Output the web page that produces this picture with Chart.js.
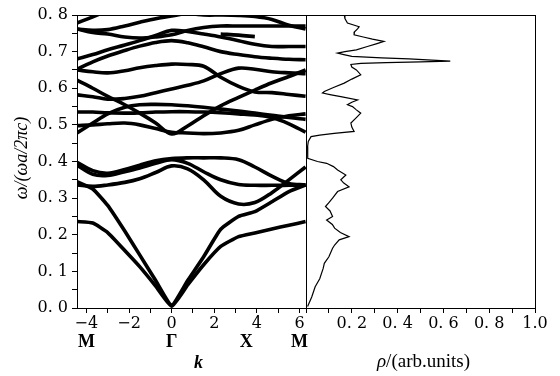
<!DOCTYPE html>
<html lang="en">
<head>
<meta charset="UTF-8">
<title>Band structure and DOS</title>
<script src="https://cdn.jsdelivr.net/npm/chart.js"></script>
<style>
    html, body { margin: 0; padding: 0; background: #fff; }
</style>
</head>
<body>
<canvas id="myChart" width="560" height="376"></canvas>
<script>
    // k values along M - Gamma - X - M, shared by every band
    var kPoints = [-4.44, -3.7, -3.0, -2.2, -1.5, -0.75, 0, 0.75, 1.5, 2.3, 3.14, 3.9, 4.7, 5.5, 6.28];

    // lower bands
    var band1 = [0.236, 0.232, 0.206, 0.157, 0.113, 0.06, 0.005, 0.063, 0.118, 0.168, 0.195, 0.205, 0.216, 0.226, 0.236];
    var band2 = [0.345, 0.325, 0.28, 0.21, 0.145, 0.075, 0.008, 0.075, 0.14, 0.215, 0.25, 0.263, 0.29, 0.318, 0.336];
    var band3 = [0.336, 0.332, 0.336, 0.343, 0.353, 0.37, 0.388, 0.38, 0.35, 0.305, 0.284, 0.288, 0.315, 0.35, 0.385];
    var band4 = [0.39, 0.365, 0.362, 0.372, 0.382, 0.395, 0.405, 0.395, 0.372, 0.35, 0.337, 0.335, 0.335, 0.335, 0.336];
    var band5 = [0.398, 0.375, 0.368, 0.378, 0.39, 0.402, 0.408, 0.41, 0.41, 0.41, 0.405, 0.385, 0.36, 0.34, 0.336];

    // upper bands
    var band6 = [0.622, 0.6, 0.578, 0.555, 0.532, 0.505, 0.475, 0.497, 0.525, 0.552, 0.575, 0.595, 0.615, 0.632, 0.65];
    var band7 = [0.478, 0.505, 0.53, 0.548, 0.555, 0.556, 0.555, 0.552, 0.548, 0.543, 0.538, 0.532, 0.526, 0.52, 0.515];
    var band8 = [0.535, 0.535, 0.533, 0.532, 0.533, 0.535, 0.536, 0.536, 0.535, 0.533, 0.53, 0.527, 0.52, 0.503, 0.48];
    var band9 = [0.498, 0.5, 0.503, 0.505, 0.5, 0.49, 0.48, 0.478, 0.476, 0.478, 0.485, 0.5, 0.515, 0.525, 0.53];
    var band10 = [0.582, 0.577, 0.57, 0.572, 0.578, 0.588, 0.598, 0.608, 0.62, 0.64, 0.655, 0.652, 0.645, 0.642, 0.64];
    var band11 = [0.65, 0.645, 0.642, 0.648, 0.656, 0.662, 0.666, 0.665, 0.66, 0.63, 0.605, 0.59, 0.588, 0.583, 0.578];
    var band12 = [0.652, 0.672, 0.688, 0.703, 0.715, 0.725, 0.73, 0.724, 0.713, 0.7, 0.692, 0.686, 0.682, 0.679, 0.678];
    var band13 = [0.68, 0.692, 0.705, 0.718, 0.73, 0.744, 0.758, 0.755, 0.748, 0.74, 0.73, 0.72, 0.714, 0.714, 0.714];
    var band14 = [0.762, 0.752, 0.748, 0.74, 0.737, 0.74, 0.746, 0.758, 0.766, 0.77, 0.77, 0.77, 0.77, 0.77, 0.77];
    var band15 = [0.778, 0.795, 0.812, null, null, null, null, null, null, null, null, null, null, null, null];
    var band16 = [0.762, 0.758, 0.76, 0.77, 0.78, 0.79, 0.797, 0.806, null, null, null, null, null, null, null];
    var band17 = [null, null, null, null, null, null, 0.812, 0.805, 0.8, 0.8, 0.799, 0.796, 0.788, 0.772, 0.762];
    // short broken piece near X
    var band18 = [null, null, null, null, null, null, null, null, null, 0.748, 0.745, 0.741, null, null, null];

    // density of states
    var dosOmega = [0.8, 0.79, 0.778, 0.768, 0.762, 0.754, 0.746, 0.74, 0.734, 0.728, 0.722, 0.714, 0.705, 0.7, 0.696,
        0.692, 0.687, 0.683, 0.68, 0.677, 0.674, 0.672, 0.67, 0.668, 0.665, 0.658, 0.65, 0.637, 0.625, 0.614,
        0.602, 0.591, 0.587, 0.582, 0.577, 0.568, 0.562, 0.555, 0.55, 0.541, 0.532, 0.52, 0.505, 0.494, 0.482,
        0.477, 0.472, 0.468, 0.455, 0.441, 0.423, 0.409, 0.4, 0.395, 0.386, 0.377, 0.363, 0.35, 0.341, 0.331,
        0.318, 0.3, 0.288, 0.277, 0.265, 0.25, 0.24, 0.228, 0.218, 0.206, 0.195, 0.186, 0.172, 0.163, 0.14,
        0.122, 0.108, 0.08, 0.058, 0.03, 0.004];
    var dosRho = [0.167, 0.17, 0.181, 0.232, 0.225, 0.212, 0.21, 0.25, 0.29, 0.34, 0.31, 0.268, 0.22, 0.17, 0.138,
        0.165, 0.2, 0.33, 0.45, 0.55, 0.63, 0.5, 0.35, 0.24, 0.196, 0.2, 0.22, 0.239, 0.2, 0.167,
        0.12, 0.08, 0.072, 0.11, 0.152, 0.225, 0.2, 0.181, 0.203, 0.22, 0.239, 0.22, 0.196, 0.2, 0.21,
        0.123, 0.06, 0.022, 0.01, 0.007, 0.007, 0.008, 0.05, 0.09, 0.12, 0.138, 0.174, 0.152, 0.165, 0.188,
        0.138, 0.116, 0.1, 0.085, 0.105, 0.116, 0.09, 0.115, 0.125, 0.15, 0.188, 0.145, 0.125, 0.116, 0.1,
        0.08, 0.075, 0.06, 0.04, 0.025, 0.007];

    // tick labels
    var kTickValues = [-4, -2, 0, 2, 4, 6];
    var kTickText = ['\u22124', '\u22122', '0', '2', '4', '6'];
    var rhoTickValues = [0.2, 0.4, 0.6, 0.8, 1.0];
    var rhoTickText = ['0. 2', '0. 4', '0. 6', '0. 8', '1.0'];
    var omegaTickValues = [0, 0.1, 0.2, 0.3, 0.4, 0.5, 0.6, 0.7, 0.8];
    var omegaTickText = ['0. 0', '0. 1', '0. 2', '0. 3', '0. 4', '0. 5', '0. 6', '0. 7', '0. 8'];
    var symLabels = ['M', '\u0393', 'X', 'M'];
    var symPos = [-4, 0, 3.5, 6];

    var bands = [band1, band2, band3, band4, band5, band6, band7, band8, band9,
        band10, band11, band12, band13, band14, band15, band16, band17, band18];

    function findLabel(values, texts, v) {
        for (var i = 0; i < values.length; i++) {
            if (Math.abs(values[i] - v) < 1e-6) return texts[i];
        }
        return '';
    }
    function stepTicks(scale, from, to, step) {
        var t = [];
        var n = Math.round((to - from) / step);
        for (var i = 0; i <= n; i++) t.push({ value: +(from + i * step).toFixed(4) });
        scale.ticks = t;
    }

    var datasets = bands.map(function (b) {
        return {
            data: kPoints.map(function (k, i) { return { x: k, y: b[i] }; }),
            xAxisID: 'x',
            yAxisID: 'y',
            borderColor: '#000',
            borderWidth: 3.6,
            pointRadius: 0,
            tension: (b === band1 || b === band2) ? 0.15 : 0.35,
            clip: 0,
            fill: false
        };
    });
    datasets.push({
        data: dosRho.map(function (r, i) { return { x: r, y: dosOmega[i] }; }),
        xAxisID: 'x2',
        yAxisID: 'y',
        borderColor: '#000',
        borderWidth: 1.2,
        pointRadius: 0,
        tension: 0,
        clip: 0,
        fill: false
    });

    var tickFont = { family: 'DejaVu Serif', size: 16 };
    var gridOpts = { display: true, drawOnChartArea: false, drawTicks: true, tickLength: 5, color: '#000' };

    var extras = {
        id: 'extras',
        afterDraw: function (chart) {
            var ctx = chart.ctx, a = chart.chartArea;
            var xs = chart.scales.x, x2 = chart.scales.x2;
            ctx.save();
            ctx.strokeStyle = '#000';
            ctx.lineWidth = 1;
            ctx.strokeRect(a.left + 0.5, a.top + 0.5, a.right - a.left, a.bottom - a.top);
            ctx.beginPath();
            ctx.moveTo(Math.round(xs.right) + 0.5, a.top);
            ctx.lineTo(Math.round(xs.right) + 0.5, a.bottom);
            ctx.stroke();

            ctx.fillStyle = '#000';
            ctx.textAlign = 'center';
            ctx.textBaseline = 'middle';
            ctx.font = 'bold 18px "Liberation Serif"';
            symPos.forEach(function (p, i) {
                ctx.fillText(symLabels[i], xs.getPixelForValue(p), a.bottom + 34);
            });
            ctx.font = 'italic bold 18px "Liberation Serif"';
            ctx.fillText('k', (xs.left + xs.right) / 2 + 7, a.bottom + 55);

            // rho title, italic symbol then upright text
            var cx = (x2.left + x2.right) / 2 + 3, cy = a.bottom + 54;
            ctx.font = 'italic 19px "Liberation Serif"';
            var w1 = ctx.measureText('\u03c1').width;
            ctx.font = '19px "Liberation Serif"';
            var w2 = ctx.measureText('/(arb.units)').width;
            var sx = cx - (w1 + w2) / 2;
            ctx.textAlign = 'left';
            ctx.font = 'italic 19px "Liberation Serif"';
            ctx.fillText('\u03c1', sx, cy);
            ctx.font = '19px "Liberation Serif"';
            ctx.fillText('/(arb.units)', sx + w1, cy);

            // y title
            ctx.translate(22, 158);
            ctx.rotate(-Math.PI / 2);
            ctx.textAlign = 'center';
            ctx.font = 'italic 18px "Liberation Serif"';
            ctx.fillText('\u03c9/(\u03c9a/2\u03c0c)', 0, 0);
            ctx.restore();
        }
    };

    new Chart(document.getElementById('myChart'), {
        type: 'line',
        data: { datasets: datasets },
        options: {
            responsive: false,
            animation: false,
            layout: { padding: { left: 0, right: 25, top: 15, bottom: 0 } },
            plugins: { legend: { display: false }, tooltip: { enabled: false } },
            scales: {
                x: {
                    type: 'linear',
                    position: 'bottom',
                    stack: 'k',
                    stackWeight: 1,
                    min: -4.44,
                    max: 6.3,
                    grid: gridOpts,
                    border: { display: true, color: '#000', width: 1 },
                    afterBuildTicks: function (s) { stepTicks(s, -4, 6, 1); },
                    afterFit: function (s) { s.height = 68; },
                    ticks: {
                        autoSkip: false, maxRotation: 0, padding: 1, color: '#000', font: tickFont,
                        callback: function (v) { return findLabel(kTickValues, kTickText, v); }
                    }
                },
                x2: {
                    type: 'linear',
                    position: 'bottom',
                    stack: 'k',
                    stackWeight: 1,
                    min: 0,
                    max: 1,
                    grid: gridOpts,
                    border: { display: true, color: '#000', width: 1 },
                    afterBuildTicks: function (s) { stepTicks(s, 0, 1, 0.1); },
                    afterFit: function (s) { s.height = 68; },
                    ticks: {
                        autoSkip: false, maxRotation: 0, padding: 1, color: '#000', font: tickFont,
                        callback: function (v) { return findLabel(rhoTickValues, rhoTickText, v); }
                    }
                },
                y: {
                    type: 'linear',
                    position: 'left',
                    min: 0,
                    max: 0.8,
                    grid: gridOpts,
                    border: { display: true, color: '#000', width: 1 },
                    afterBuildTicks: function (s) { stepTicks(s, 0, 0.8, 0.05); },
                    afterFit: function (s) { s.width = 77; },
                    ticks: {
                        autoSkip: false, padding: 4, color: '#000', font: tickFont,
                        callback: function (v) { return findLabel(omegaTickValues, omegaTickText, v); }
                    }
                }
            }
        },
        plugins: [extras]
    });
</script>
</body>
</html>
